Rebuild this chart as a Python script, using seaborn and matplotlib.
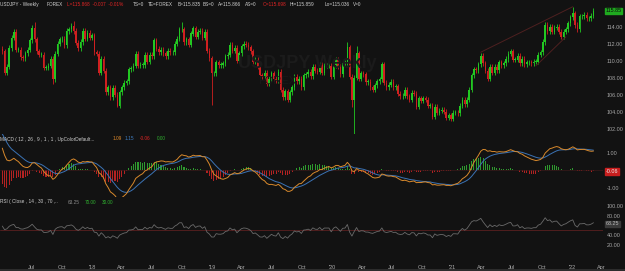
import numpy as np
import pandas as pd
import matplotlib
matplotlib.use("Agg")
import matplotlib.pyplot as plt
import matplotlib.dates as mdates
import seaborn as sns

# ---------------- data (weekly closes) ----------------
warmup_start = "2016-07-04"
warmup_closes = [100.6, 104.9, 106.1, 102.1, 101.8, 101.3, 100.2, 101.9, 104.0, 102.6,
                 102.3, 101.0, 101.3, 103.7, 104.2, 103.8, 104.7, 103.1, 106.7, 110.9,
                 113.2, 113.5, 115.4, 117.9, 117.1, 116.9, 117.0, 114.5, 114.6, 115.1,
                 112.6, 113.2, 112.9, 112.1, 114.0, 114.8, 112.7, 111.3, 111.4]

chart_start = "2017-04-03"
closes_2017 = [111.1, 108.6, 109.3, 111.5, 112.7, 113.4, 111.3, 111.3, 110.4, 110.3,
               110.9, 111.3, 112.4, 113.9, 112.5, 111.1, 110.7, 110.7, 109.2, 109.2,
               109.4, 110.2, 107.8, 110.8, 112.0, 112.5, 112.6, 111.8, 113.5, 113.7,
               114.1, 113.5, 112.1, 111.5, 112.2, 113.5, 112.6, 113.3, 112.7]
closes_2018 = [113.0, 111.0, 110.8, 108.6, 110.2, 108.8, 106.3, 106.9, 105.7, 106.8,
               106.0, 104.7, 106.3, 106.9, 107.4, 107.6, 109.0, 109.1, 109.4, 110.8,
               109.4, 109.5, 109.5, 110.7, 109.9, 110.7, 110.5, 112.4, 111.4, 111.0,
               111.3, 110.9, 110.5, 111.2, 111.0, 111.0, 112.0, 112.6, 113.7, 113.7,
               112.2, 112.5, 111.9, 113.2, 113.8, 112.8, 113.4, 113.5, 112.7, 113.4,
               111.2, 110.3, 108.5]
closes_2019 = [108.5, 109.8, 109.5, 109.5, 109.7, 110.5, 110.7, 111.9, 111.2, 111.5,
               110.0, 110.9, 111.7, 112.0, 111.9, 111.6, 111.1, 109.9, 110.1, 109.3,
               108.3, 108.2, 108.6, 107.3, 107.9, 108.5, 107.9, 107.7, 108.7, 106.6,
               105.7, 106.4, 105.4, 106.3, 106.9, 108.1, 107.6, 107.9, 106.9, 108.3,
               108.4, 108.7, 108.2, 109.3, 108.8, 108.7, 109.5, 108.6, 109.4, 109.4,
               109.4, 108.1]
closes_2020 = [109.5, 110.1, 109.3, 108.4, 109.7, 109.8, 111.6, 108.1, 105.4, 108.0,
               110.9, 107.9, 108.5, 108.4, 107.5, 107.5, 106.9, 106.6, 107.1, 107.6,
               107.8, 109.6, 107.4, 106.9, 107.2, 107.5, 106.9, 107.0, 106.1, 105.8,
               105.9, 106.6, 105.8, 105.4, 106.2, 106.1, 104.6, 105.6, 105.3, 105.6,
               105.4, 104.7, 104.7, 103.4, 104.6, 103.9, 104.1, 104.2, 104.0, 103.3,
               103.6, 103.2]
closes_2021 = [103.9, 103.9, 103.8, 104.7, 105.4, 104.9, 105.4, 106.6, 108.3, 109.0,
               108.9, 109.6, 110.6, 109.7, 108.8, 107.9, 109.3, 108.6, 109.3, 108.9,
               109.8, 109.5, 109.7, 110.2, 110.8, 111.1, 110.1, 110.1, 110.6, 109.7,
               110.2, 109.6, 109.8, 109.8, 109.7, 109.9, 109.9, 110.7, 111.0, 112.2,
               114.2, 113.5, 114.0, 113.4, 113.9, 114.0, 113.4, 112.8, 113.4, 113.7,
               114.4, 115.1]
closes_2022 = [115.6, 114.2, 113.7, 115.2, 115.2, 115.4, 115.0, 115.0, 115.3, 115.87]

high_dates = ["2017-07-10", "2017-11-06", "2018-10-01", "2020-02-17", "2020-03-16", "2022-01-03"]
high_values = [114.5, 114.7, 114.5, 112.2, 111.7, 116.35]
low_dates = ["2017-09-04", "2018-03-19", "2018-12-31", "2020-03-02", "2020-03-09", "2021-01-04"]
low_values = [107.3, 104.6, 104.8, 104.5, 101.2, 102.9]

trend_upper_dates = ["2021-03-29", "2022-01-03"]
trend_upper_values = [111.0, 116.35]
trend_lower_dates = ["2021-09-13", "2021-12-13"]
trend_lower_values = [109.4, 112.8]

y_price_ticks = [102, 104, 106, 108, 110, 112, 114]
y_macd_ticks = [-1, 1]
y_rsi_ticks = [20, 40, 80, 100]

# ---------------- build frames ----------------
closes = closes_2017 + closes_2018 + closes_2019 + closes_2020 + closes_2021 + closes_2022
all_closes = pd.Series(warmup_closes + closes,
                       index=pd.date_range(warmup_start, periods=len(warmup_closes) + len(closes), freq="7D"))
opens_all = all_closes.shift(1)

ema12 = all_closes.ewm(span=12, adjust=False).mean()
ema26 = all_closes.ewm(span=26, adjust=False).mean()
macd_all = ema12 - ema26
signal_all = macd_all.ewm(span=9, adjust=False).mean()
hist_all = macd_all - signal_all
delta = all_closes.diff()
gain = delta.clip(lower=0).ewm(alpha=1 / 14, adjust=False).mean()
loss = (-delta.clip(upper=0)).ewm(alpha=1 / 14, adjust=False).mean()
rsi_all = 100 - 100 / (1 + gain / loss)

n0 = len(warmup_closes)
df = pd.DataFrame({
    "date": all_closes.index[n0:],
    "open": opens_all.values[n0:],
    "close": all_closes.values[n0:],
    "macd": macd_all.values[n0:],
    "signal": signal_all.values[n0:],
    "hist": hist_all.values[n0:],
    "rsi": rsi_all.values[n0:],
})
pad = 0.3
df["high"] = df[["open", "close"]].max(axis=1) + pad
df["low"] = df[["open", "close"]].min(axis=1) - pad
for d, v in zip(high_dates, high_values):
    df.loc[df["date"] == pd.Timestamp(d), "high"] = v
for d, v in zip(low_dates, low_values):
    df.loc[df["date"] == pd.Timestamp(d), "low"] = v

# ---------------- styling ----------------
BG = "#121212"
TXT = "#a8a8a8"
GREEN = "#22c822"
RED = "#cf2020"
sns.set_theme(style="dark", rc={"axes.facecolor": BG, "figure.facecolor": BG,
                                 "axes.edgecolor": BG, "grid.color": BG})
plt.rcParams["font.family"] = ["Liberation Sans", "DejaVu Sans"]

W, H = 625, 271
fig = plt.figure(figsize=(W / 100, H / 100), dpi=100)
fig.patch.set_facecolor(BG)

def rect(top, bottom, right=603):
    return [0, 1 - bottom / H, right / W, (bottom - top) / H]

ax1 = fig.add_axes(rect(0, 134))
ax2 = fig.add_axes(rect(134, 197), sharex=ax1)
ax3 = fig.add_axes(rect(197, 258), sharex=ax1)

up = df["close"] >= df["open"]
cols = np.where(up, GREEN, RED)
ax1.vlines(df["date"], df["low"], df["high"], colors=cols, linewidth=0.6)
body_bottom = df[["open", "close"]].min(axis=1)
body_h = (df["close"] - df["open"]).abs().clip(lower=0.06)
ax1.bar(df["date"], body_h, bottom=body_bottom, width=4.8, color=cols, linewidth=0)

sns.lineplot(x=pd.to_datetime(trend_upper_dates), y=trend_upper_values, ax=ax1,
             color="#4e2020", linewidth=0.7)
sns.lineplot(x=pd.to_datetime(trend_lower_dates), y=trend_lower_values, ax=ax1,
             color="#4e2020", linewidth=0.7)
ax1.set_ylim(101.38, 117.14)

# MACD
hcols = np.where(df["hist"] >= 0, "#2e9a2e", "#b42222")
ax2.bar(df["date"], df["hist"], width=3.2, color=hcols, linewidth=0)
ax2.axhline(0, color="#3a1a1a", linewidth=0.5)
sns.lineplot(data=df, x="date", y="signal", ax=ax2, color="#3b73b5", linewidth=0.7)
sns.lineplot(data=df, x="date", y="macd", ax=ax2, color="#d8892c", linewidth=0.7)
ax2.set_ylim(-1.53, 2.07)

# RSI
ax3.axhline(50, color="#5a2020", linewidth=0.6)
sns.lineplot(data=df, x="date", y="rsi", ax=ax3, color="#6a6a6a", linewidth=0.6)
ax3.set_ylim(-6.7, 118.5)

x0 = pd.Timestamp("2017-03-27")
x1 = pd.Timestamp("2022-04-05")
for ax in (ax1, ax2, ax3):
    ax.set_facecolor(BG)
    ax.set_xlim(x0, x1)
    ax.grid(False)
    for s in ax.spines.values():
        s.set_visible(False)
    ax.yaxis.tick_right()
    ax.tick_params(axis="y", length=0, pad=2.5, labelsize=3.9, labelcolor=TXT)
    ax.tick_params(axis="x", length=0)
    ax.set_xlabel("")
    ax.set_ylabel("")
ax1.set_yticks(y_price_ticks)
ax1.set_yticklabels([f"{v:.2f}" for v in y_price_ticks])
ax2.set_yticks(y_macd_ticks)
ax2.set_yticklabels([f"{v:.2f}" for v in y_macd_ticks])
ax3.set_yticks(y_rsi_ticks)
ax3.set_yticklabels([f"{v:.2f}" for v in y_rsi_ticks])
plt.setp(ax1.get_xticklabels(), visible=False)
plt.setp(ax2.get_xticklabels(), visible=False)

ticks = pd.date_range("2017-07-01", "2022-04-01", freq="QS-JAN")
labels = [("'" + t.strftime("%y")) if t.month == 1 else t.strftime("%b") for t in ticks]
ax3.set_xticks(ticks)
ax3.set_xticklabels(labels)
ax3.tick_params(axis="x", pad=5, labelsize=4.0, labelcolor=TXT)

# right-side value boxes
def vbox(ax, val, text, fc, tc):
    ax.text(1.004, val, text, transform=ax.get_yaxis_transform(), fontsize=3.9,
            color=tc, va="center", ha="left",
            bbox=dict(boxstyle="square,pad=0.15", fc=fc, ec=fc), clip_on=False)

vbox(ax1, 115.85, "115.85", "#1faa1f", "#0a0a0a")
vbox(ax2, -0.06, "-0.06", "#c81e1e", "#f0f0f0")
vbox(ax3, 63.25, "63.25", "#3a3a3a", "#bbbbbb")

# watermark
fig.text(307 / W, 1 - 64 / H, "USDJPY Weekly", fontsize=13, color="#1b1b1b",
         ha="center", va="center", fontweight="bold")
fig.text(258 / W, 1 - 81 / H, "FOREX", fontsize=8, color="#191919",
         ha="left", va="center")

# header texts
def htxt(x, y, s, c):
    fig.text(x / W, 1 - y / H, s, fontsize=3.4, color=c, ha="left", va="center")

G, R = "#cfcfcf", "#e02424"
hy = 4.5
for x, s, c in [(0, "USDJPY - Weekly", G), (47, "FOREX", G),
                (67, "L=115.868  -0.007  -0.01%", R), (133, "TS=0", G),
                (148, "TE=FOREX", G), (178, "B=115.835", G), (203, "BS=0", G),
                (218, "A=115.866", G), (245, "AS=0", G), (263, "O=115.698", R),
                (290, "Hi=115.859", G), (325, "Lo=115.036", G), (353, "V=0", G)]:
    htxt(x, hy, s, c)

my = 139
for x, s, c in [(0, "MACD ( 12 , 26 , 9 , 1 , 1 , UpColorDefault...", G),
                (113, "1.09", "#e08a2a"), (125, "1.15", "#3f7fc4"),
                (140, "-0.06", R), (157, "0.00", "#2fb02f")]:
    htxt(x, my, s, c)

ry = 202
for x, s, c in [(0, "RSI ( Close , 14 , 30 , 70 ,..", G), (68, "63.25", "#8a8a8a"),
                (85, "70.00", "#2fb02f"), (102, "30.00", "#2fb02f")]:
    htxt(x, ry, s, c)

fig.patches.append(plt.Rectangle((0, 0), 1, 2 / H, transform=fig.transFigure,
                                 facecolor="#2c2c2c", edgecolor="none"))

fig.savefig("out.png", dpi=100, facecolor=BG)
